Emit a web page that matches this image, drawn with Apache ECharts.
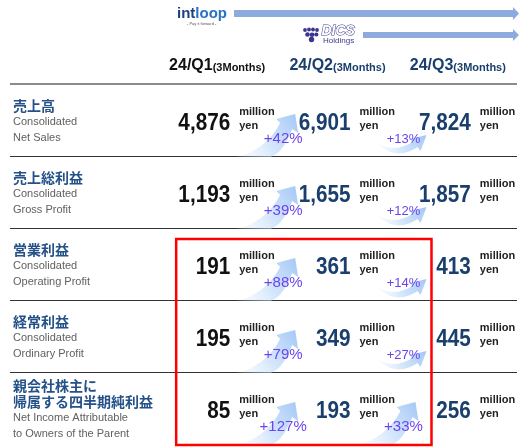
<!DOCTYPE html>
<html>
<head>
<meta charset="utf-8">
<script src="https://cdn.jsdelivr.net/npm/echarts@6/dist/echarts.min.js"></script>
<style>
  html, body { margin: 0; padding: 0; background: #fff; }
  #chart { width: 519px; height: 447px; }
</style>
</head>
<body>
<div id="chart"></div>
<script>
// quarterly results (million yen)
const quarters = ['24/Q1', '24/Q2', '24/Q3'];
const periodNote = '(3Months)';
const metricsJa = ['売上高', '売上総利益', '営業利益', '経常利益', '親会社株主に\n帰属する四半期純利益'];
const metricsEn = [
  'Consolidated\nNet Sales',
  'Consolidated\nGross Profit',
  'Consolidated\nOperating Profit',
  'Consolidated\nOrdinary Profit',
  'Net Income Attributable\nto Owners of the Parent'
];
const valuesQ1 = [4876, 1193, 191, 195, 85];
const valuesQ2 = [6901, 1655, 361, 349, 193];
const valuesQ3 = [7824, 1857, 413, 445, 256];
const growthQ1toQ2 = [42, 39, 88, 79, 127];
const growthQ2toQ3 = [13, 12, 14, 27, 33];
const unitLines = ['million', 'yen'];
// red box: columns Q1..Q2, rows 営業利益..純利益
const highlightCols = [0, 1];
const highlightRows = [2, 4];

const FONT = "'Liberation Sans', Arial, sans-serif";
const JP = "'Noto Sans CJK JP', sans-serif";
const NAVY = '#1a3f6c';

const BIG_ARROW = 'M6 37 Q36 30 50 3 L46 -1 L65 -6 L68 13 L62 9 Q52 34 40 37 Z';
const SMALL_ARROW = 'M26 22 Q42 34 62 22 L59 19 L76 15 L70 31 L67 27 Q44 42 26 22 Z';

const chart = echarts.init(document.getElementById('chart'));

function fmt(v) {
  return String(v).replace(/\B(?=(\d{3})+(?!\d))/g, ',');
}

function valueSeries(values, col, color) {
  return {
    type: 'custom',
    z: 4,
    data: values.map((v, i) => [col, i, v]),
    renderItem(params, api) {
      const p = api.coord([api.value(0), api.value(1)]);
      return {
        type: 'group',
        children: [
          { type: 'text', x: p[0], y: p[1] + 4, scaleX: 0.9,
            style: { text: fmt(api.value(2)), fill: color, font: `bold 23px ${FONT}`, align: 'right', verticalAlign: 'middle' } },
          { type: 'text', x: p[0] + 9, y: p[1] - 8,
            style: { text: unitLines[0], fill: '#222', font: `bold 11px ${FONT}`, verticalAlign: 'middle' } },
          { type: 'text', x: p[0] + 9, y: p[1] + 6,
            style: { text: unitLines[1], fill: '#222', font: `bold 11px ${FONT}`, verticalAlign: 'middle' } }
        ]
      };
    }
  };
}

function growthSeries(values, col) {
  return {
    type: 'custom',
    z: 3,
    data: values.map((g, i) => [col, i, g]),
    renderItem(params, api) {
      const p = api.coord([api.value(0), api.value(1)]);
      const g = api.value(2);
      const big = g >= 30;
      return {
        type: 'group',
        x: p[0],
        y: p[1],
        children: [
          { type: 'path', shape: { pathData: big ? BIG_ARROW : SMALL_ARROW },
            style: { fill: new echarts.graphic.LinearGradient(0, 1, 1, 0, [
              { offset: 0, color: 'rgba(215,232,252,0.1)' },
              { offset: 0.5, color: 'rgba(190,218,250,0.7)' },
              { offset: 1, color: '#a2c6f5' }
            ]) } },
          { type: 'text', x: 53, y: 19,
            style: { text: '+' + g + '%', fill: '#6b44ee', font: `${big ? 15 : 13}px ${FONT}`, align: 'center', verticalAlign: 'middle' } }
        ]
      };
    }
  };
}

const option = {
  backgroundColor: '#fff',
  animation: false,
  grid: { left: 170, width: 361, top: 84, height: 360, outerBoundsMode: 'none' },
  xAxis: {
    type: 'category',
    position: 'top',
    data: quarters,
    axisLine: { show: false },
    axisTick: { show: false },
    axisLabel: {
      interval: 0,
      margin: 8,
      padding: [0, 26, 0, 0],
      formatter: (v, i) => i === 0 ? `{q1|${v}}{m1|${periodNote}}` : `{q|${v}}{m|${periodNote}}`,
      rich: {
        q1: { fontFamily: FONT, fontWeight: 'bold', fontSize: 16, color: '#111', lineHeight: 20 },
        m1: { fontFamily: FONT, fontWeight: 'bold', fontSize: 11, color: '#111', lineHeight: 20, padding: [4, 0, 0, 0] },
        q: { fontFamily: FONT, fontWeight: 'bold', fontSize: 16, color: NAVY, lineHeight: 20 },
        m: { fontFamily: FONT, fontWeight: 'bold', fontSize: 11, color: NAVY, lineHeight: 20, padding: [4, 0, 0, 0] }
      }
    },
    splitLine: { show: false }
  },
  yAxis: {
    type: 'category',
    inverse: true,
    data: metricsJa,
    axisLine: { show: false },
    axisTick: { show: false },
    splitLine: { show: false },
    axisLabel: {
      interval: 0,
      align: 'left',
      margin: 157,
      padding: [4, 0, 0, 0],
      formatter: (v, i) => {
        const ja = v.split('\n').map(s => `{jp|${s}}`);
        const en = metricsEn[i].split('\n').map(s => `{en|${s}}`);
        return ja.concat(en).join('\n');
      },
      rich: {
        jp: { fontFamily: JP, fontWeight: 'bold', fontSize: 14, color: '#245188', lineHeight: 16 },
        en: { fontFamily: FONT, fontSize: 11, color: '#616161', lineHeight: 16 }
      }
    }
  },
  graphic: [
    { type: 'text', left: 177, top: 6,
      style: { text: '{a|int}{b|loop}', rich: {
        a: { fontFamily: FONT, fontWeight: 'bold', fontSize: 15, fill: '#1d3f7c' },
        b: { fontFamily: FONT, fontWeight: 'bold', fontSize: 15, fill: '#2a72c6' }
      } } },
    { type: 'text', left: 187, top: 22, style: { text: '- Pay it forward -', fontFamily: FONT, fontSize: 4, fill: '#555' } },
    { type: 'polygon', shape: { points: [[234, 10], [513, 10], [513, 7], [519, 13.5], [513, 20], [513, 17], [234, 17]] },
      style: { fill: '#8eaadc' } },
    { type: 'group', children: [
      { type: 'circle', shape: { cx: 305, cy: 30, r: 1.9 }, style: { fill: '#3b3590' } },
      { type: 'circle', shape: { cx: 309, cy: 29.5, r: 1.9 }, style: { fill: '#3b3590' } },
      { type: 'circle', shape: { cx: 313, cy: 29.5, r: 1.9 }, style: { fill: '#3b3590' } },
      { type: 'circle', shape: { cx: 317, cy: 30, r: 1.9 }, style: { fill: '#3b3590' } },
      { type: 'circle', shape: { cx: 307.5, cy: 34.5, r: 2.3 }, style: { fill: '#3b3590' } },
      { type: 'circle', shape: { cx: 312, cy: 34.8, r: 2.3 }, style: { fill: '#3b3590' } },
      { type: 'circle', shape: { cx: 316.3, cy: 34.5, r: 2.1 }, style: { fill: '#3b3590' } },
      { type: 'circle', shape: { cx: 311.5, cy: 39.5, r: 2.7 }, style: { fill: '#3b3590' } }
    ] },
    { type: 'text', left: 321, top: 24,
      style: { text: 'DICS', fontFamily: FONT, fontStyle: 'italic', fontWeight: 'bold', fontSize: 14, fill: '#fff', stroke: '#3b3a90', lineWidth: 1 } },
    { type: 'text', left: 323, top: 37,
      style: { text: 'Holdings', fontFamily: FONT, fontSize: 8, fill: '#3b3a90' } },
    { type: 'polygon', shape: { points: [[363, 32], [513, 32], [513, 29], [519, 35], [513, 41], [513, 38], [363, 38]] },
      style: { fill: '#8eaadc' } }
  ],
  series: [
    {
      type: 'custom',
      z: 1,
      data: metricsJa.map((_, i) => [0, i]),
      renderItem(params, api) {
        const i = api.value(1);
        const p = api.coord([0, i]);
        const h = api.size([1, 1])[1];
        const w = api.getWidth();
        const children = [];
        if (i === 0) {
          const yt = Math.round(p[1] - h / 2);
          children.push({ type: 'line', shape: { x1: 10, y1: yt, x2: w - 2, y2: yt }, style: { stroke: '#8c8c8c', lineWidth: 2 } });
        }
        if (i < metricsJa.length - 1) {
          const yb = Math.round(p[1] + h / 2) + 0.5;
          children.push({ type: 'line', shape: { x1: 10, y1: yb, x2: w - 2, y2: yb }, style: { stroke: '#333', lineWidth: 1 } });
        }
        return { type: 'group', children };
      }
    },
    growthSeries(growthQ1toQ2, 0),
    growthSeries(growthQ2toQ3, 1),
    valueSeries(valuesQ1, 0, '#111'),
    valueSeries(valuesQ2, 1, NAVY),
    valueSeries(valuesQ3, 2, NAVY),
    {
      type: 'custom',
      z: 5,
      data: [[highlightCols[0], highlightRows[0]]],
      renderItem(params, api) {
        const a = api.coord([highlightCols[0], highlightRows[0]]);
        const b = api.coord([highlightCols[1], highlightRows[1]]);
        const h = api.size([1, 1])[1];
        const x0 = a[0] - 54, x1 = b[0] + 81;
        const y0 = a[1] - h / 2 + 11, y1 = b[1] + h / 2 + 1;
        return { type: 'rect', shape: { x: x0, y: y0, width: x1 - x0, height: y1 - y0 },
          style: { fill: 'none', stroke: '#ff0000', lineWidth: 2.5 } };
      }
    }
  ]
};

chart.setOption(option);
</script>
</body>
</html>
